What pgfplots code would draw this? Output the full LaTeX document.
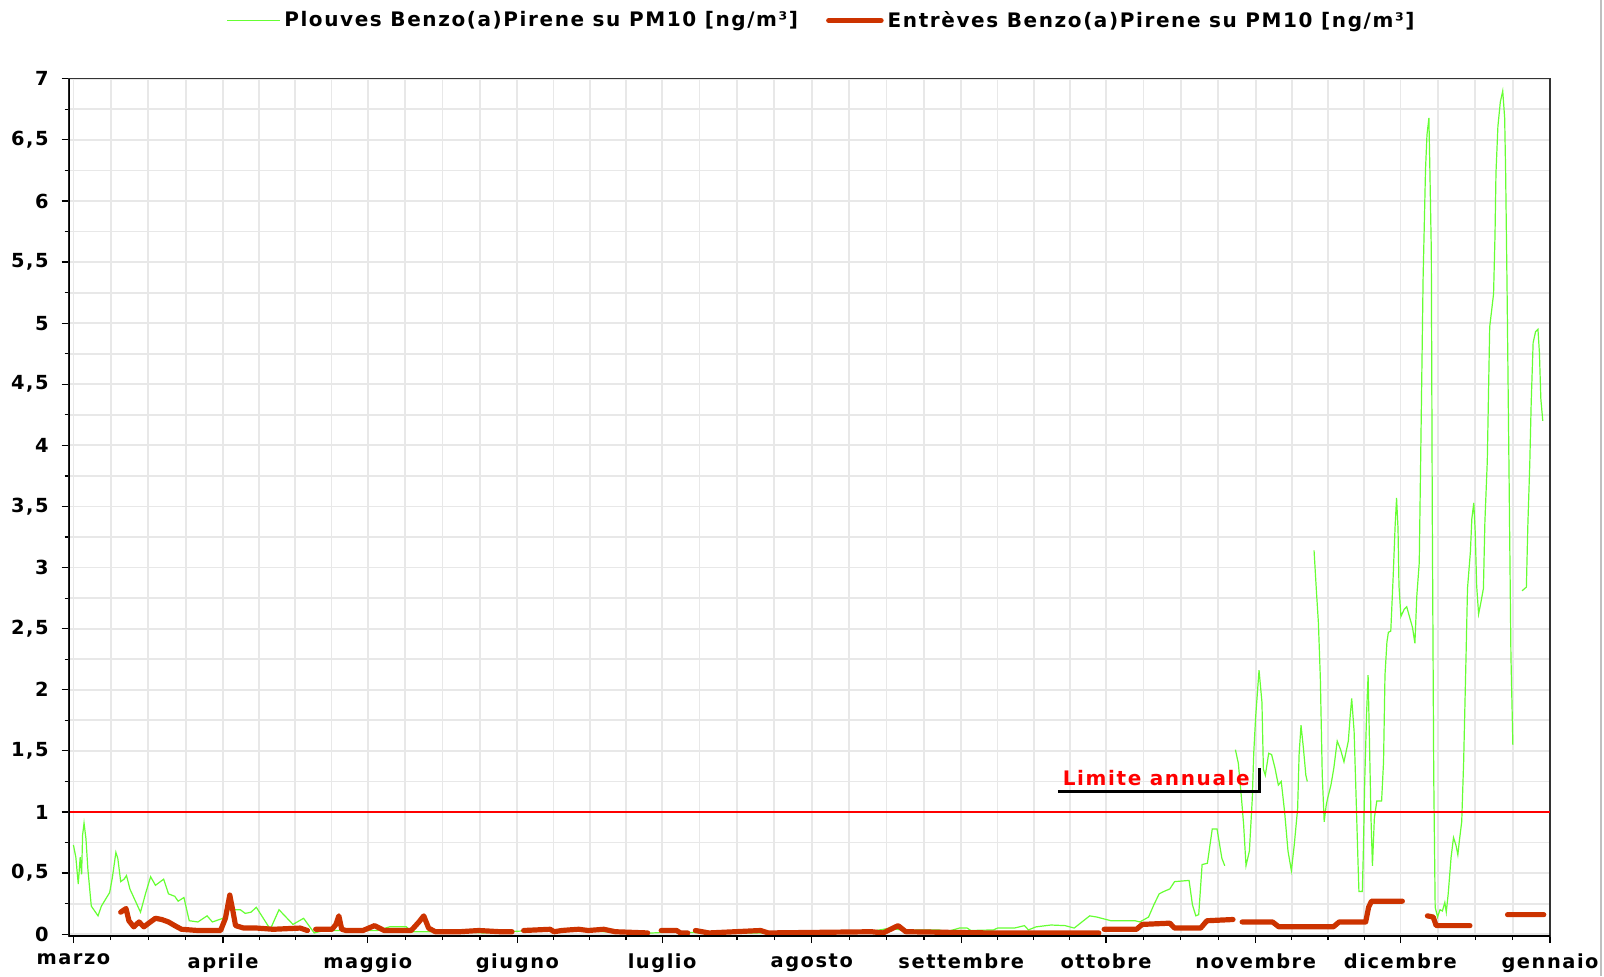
\documentclass[border=0pt]{standalone}
\usepackage{fontspec}
\setmainfont{DejaVu Sans}
\newfontfamily\chartfont[LetterSpace=8]{DejaVu Sans}
\usepackage{pgfplots}
\pgfplotsset{compat=1.18}

\definecolor{plgreen}{RGB}{102,255,51}
\definecolor{entred}{RGB}{204,51,0}
\definecolor{gridgray}{RGB}{232,232,232}

\begin{document}
\begin{tikzpicture}
\useasboundingbox (-34.3pt,-20pt) rectangle (767.7pt,468pt);
\begin{axis}[
  at={(0,0)}, anchor=south west,
  scale only axis, width=740.7pt, height=428.6pt,
  xmin=-1, xmax=306, ymin=-0.015, ymax=7,
  unbounded coords=jump,
  xtick={0,31,61,92,122,153,184,214,245,275,306},
  xticklabels={marzo,aprile,maggio,giugno,luglio,agosto,settembre,ottobre,novembre,dicembre,gennaio},
  minor xtick={7.75,15.5,23.25,38.5,46,53.5,68.75,76.5,84.25,99.5,107,114.5,129.75,137.5,145.25,160.75,168.5,176.25,191.5,199,206.5,221.75,229.5,237.25,252.5,260,267.5,282.75,290.5,298.25},
  ytick={0,0.5,...,7}, minor ytick={0.25,0.75,...,6.75},
  grid=both,
  major grid style={gridgray, line width=0.9pt},
  minor grid style={gridgray, line width=0.9pt},
  tick pos=left, tick align=outside,
  major tick length=3.5pt, minor tick length=2pt,
  tick style={black, line width=0.6pt},
  axis line style={black!80, line width=0.6pt},
  /pgf/number format/assume math mode=true,
  /pgf/number format/use comma,
  tick label style={font=\chartfont\bfseries\fontsize{9.7}{11}\selectfont},
  yticklabel style={xshift=-3pt},
  xticklabel style={yshift=-2pt},
  legend style={at={(0.509,1.068)}, anchor=center, draw=none, fill=none,
    font=\chartfont\bfseries\fontsize{10}{12}\selectfont},
  legend columns=2,
  legend cell align=left,
  /tikz/every even column/.append style={column sep=12pt},
  legend image code/.code={\draw[#1] (0cm,0cm) -- (0.92cm,0cm);},
]
\addplot[plgreen, line width=0.6pt] coordinates {
(0,0.73)(0.5,0.63)(1,0.41)(1.4,0.63)(1.7,0.49)(1.9,0.81)(2.2,0.91)(2.6,0.78)(3,0.53)(3.7,0.23)
(5.1,0.15)(5.8,0.23)(7.5,0.34)(8.1,0.47)(8.8,0.67)(9.2,0.62)(9.8,0.43)(10.5,0.45)(11,0.48)(11.7,0.37)
(13.9,0.18)(15,0.34)(16,0.47)(17,0.40)(18.7,0.45)(19.7,0.33)(21,0.31)(21.7,0.27)(22.9,0.30)(24,0.11)
(25.8,0.10)(27.7,0.15)(28.8,0.10)(31,0.13)(32,0.20)(34.6,0.20)(35.6,0.17)(36.8,0.18)(37.9,0.22)(40.8,0.04)
(42.6,0.20)(45.5,0.08)(47.7,0.13)(49.9,0.01)(52,0.03)(55,0.03)(57,0.04)(60,0.03)(63,0.03)(65.5,0.06)
(69,0.06)(70,0.02)(75,0.02)(80,0.02)(85,0.01)(90,0.02)(95,0.03)(100,0.02)(105,0.03)(110,0.02)
(115,0.01)(120,0.01)(125,0.02)(130,0.01)(140,0.01)(150,0.01)(160,0.01)(165,0.02)(169.3,0.05)(172,0.03)
(175.7,0.035)(179.3,0.035)(181,0.02)(183.6,0.05)(185.2,0.05)(186,0.03)(190.7,0.035)(191.5,0.05)(195,0.05)(197.1,0.07)
(197.9,0.035)(199.5,0.06)(202.6,0.075)(205.5,0.07)(207.4,0.05)(209,0.10)(210.6,0.15)(212.1,0.14)(215,0.11)(218,0.11)
(220,0.11)(221,0.10)(222.8,0.14)(223.9,0.24)(225,0.33)(226,0.35)(227.2,0.37)(228.2,0.43)(231.2,0.44)(231.9,0.24)
(232.6,0.15)(233.2,0.16)(233.9,0.57)(235,0.58)(236,0.86)(237,0.86)(238,0.62)(238.6,0.56)(239.5,nan)
(240.8,1.51)(241.4,1.40)(242,1.14)(242.5,0.90)(243,0.56)(243.7,0.68)(244.3,1.11)(244.6,1.48)(245,1.78)(245.7,2.16)
(246.3,1.90)(246.6,1.35)(247,1.30)(247.7,1.48)(248.3,1.47)(249,1.36)(249.7,1.22)(250.3,1.25)(251,1.00)(251.7,0.68)
(252.4,0.52)(253,0.73)(253.7,1.03)(254,1.47)(254.4,1.71)(254.9,1.52)(255.4,1.30)(255.7,1.25)(256.4,nan)
(257.1,3.14)(257.6,2.80)(258,2.55)(258.4,2.10)(258.8,1.30)(259.2,0.92)(259.6,1.05)(259.9,1.11)(260.6,1.22)(261.2,1.36)
(261.9,1.58)(262.6,1.51)(263.3,1.41)(264.2,1.58)(264.6,1.79)(264.9,1.93)(265.4,1.66)(265.8,1.14)(266.2,0.60)(266.4,0.35)
(267.1,0.35)(267.3,0.65)(267.6,1.25)(268.0,1.82)(268.3,2.12)(268.5,1.74)(268.9,0.95)(269.2,0.56)(269.6,0.95)(270.1,1.09)
(271.1,1.09)(271.5,1.41)(271.8,2.12)(272.2,2.39)(272.5,2.47)(273.0,2.48)(273.5,2.93)(273.9,3.34)(274.2,3.57)(274.5,3.32)
(274.7,2.85)(275.1,2.60)(275.8,2.66)(276.3,2.68)(277.0,2.58)(277.5,2.51)(278.0,2.38)(278.4,2.77)(278.9,3.04)(279.2,3.90)
(279.7,5.37)(280.2,6.26)(280.5,6.54)(280.9,6.68)(281.1,6.26)(281.4,5.59)(281.6,3.45)(281.9,1.30)(282.2,0.22)(282.7,0.14)
(283.2,0.20)(283.7,0.19)(284.2,0.26)(284.5,0.18)(284.9,0.33)(285.5,0.63)(286.0,0.79)(286.5,0.73)(286.9,0.65)(287.2,0.76)
(287.7,0.92)(288.1,1.41)(288.6,2.28)(288.9,2.83)(289.5,3.13)(289.8,3.40)(290.2,3.53)(290.5,3.29)(290.8,2.85)(291.2,2.62)
(291.7,2.72)(292.2,2.83)(292.5,3.37)(293.0,3.87)(293.5,4.97)(294.3,5.24)(294.6,5.72)(294.8,6.23)(295.2,6.61)(295.7,6.81)
(296.2,6.90)(296.6,6.68)(296.8,6.24)(297.1,5.28)(297.5,3.80)(297.9,2.28)(298.3,1.55)(299.2,nan)
(300.2,2.81)(301.1,2.84)(301.4,3.34)(301.8,3.84)(302.1,4.35)(302.5,4.84)(303.0,4.93)(303.5,4.95)(303.8,4.76)(304.1,4.38)(304.5,4.20)
};
\addlegendentry{Plouves Benzo(a)Pirene su PM10 [ng/m³]}
\addplot[red, line width=1pt, forget plot] coordinates {(-1,1) (306,1)};
\addplot[entred, line width=2.6pt, line join=round, line cap=round] coordinates {
(9.8,0.18)(10.9,0.21)(11.5,0.11)(12.5,0.06)(13.6,0.10)(14.6,0.06)(15.6,0.09)(17,0.13)(18.3,0.12)(19.7,0.10)
(21,0.07)(22.4,0.04)(25.8,0.03)(30.5,0.03)(31.5,0.13)(32.4,0.32)(33,0.20)(33.6,0.07)(35.3,0.05)(38,0.05)
(41.4,0.04)(47,0.05)(48.5,0.03)(49.3,nan)
(50.2,0.04)(53.6,0.04)(54.4,0.08)(55,0.15)(55.6,0.04)(56.5,0.03)(60,0.03)(62.4,0.07)(64.4,0.03)(70,0.03)
(71.6,0.10)(72.6,0.15)(73.6,0.05)(75,0.02)(80,0.02)(84,0.03)(88.5,0.02)(90.9,0.02)(92,nan)
(93.3,0.03)(98.8,0.04)(99.6,0.02)(101.2,0.03)(102.8,0.035)(104.7,0.04)(106.7,0.03)(109.9,0.04)(112.3,0.02)(119,0.01)(120.5,nan)
(121.8,0.03)(125,0.03)(125.8,0.01)(127.3,0.01)(128.2,nan)
(128.9,0.03)(131.7,0.01)(142.4,0.03)(144,0.01)(165.4,0.02)(167.8,0.01)(170.9,0.07)(172.5,0.02)(190,0.01)(200,0.01)(212.5,0.01)(213,nan)
(213.6,0.04)(220.3,0.04)(221.5,0.08)(227.2,0.09)(228.2,0.05)(233.6,0.05)(234.9,0.11)(240.3,0.12)(241.2,nan)
(242.2,0.10)(248.5,0.10)(249.8,0.06)(261.1,0.06)(262.3,0.10)(267.8,0.10)(268.4,0.22)(269,0.27)(275.4,0.27)(278,nan)
(280.6,0.15)(281.8,0.14)(282.4,0.07)(289.4,0.07)(293,nan)
(297.2,0.16)(304.7,0.16)
};
\addlegendentry{Entrèves Benzo(a)Pirene su PM10 [ng/m³]}
\node[text=red, font=\chartfont\bfseries\fontsize{10}{12}\selectfont] at (axis cs:224.4,1.28) {Limite annuale};
\draw[black, line width=1.5pt] (axis cs:204,1.17) -- (axis cs:245.8,1.17) -- (axis cs:245.8,1.36);
\draw[black, line width=1.5pt] (rel axis cs:0,0) -- (rel axis cs:0,1);
\draw[black, line width=1.5pt] (rel axis cs:0,0) -- (rel axis cs:1,0);
\end{axis}
\draw[gray!50, line width=1pt] (766pt,-20pt) -- (766pt,468pt);
\end{tikzpicture}
\end{document}
